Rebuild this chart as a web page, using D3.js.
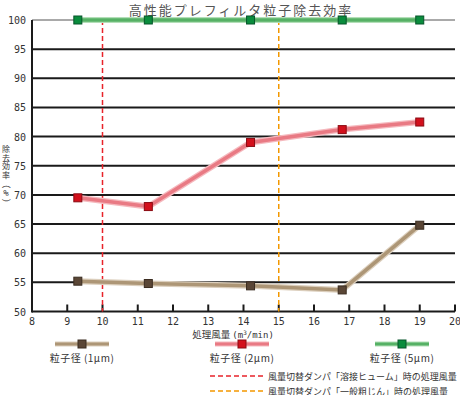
<!DOCTYPE html>
<html>
<head>
<meta charset="utf-8">
<script src="https://d3js.org/d3.v7.min.js"></script>
<style>
  body { margin: 0; background: #fff; }
  .jp { font-family: "Noto Sans CJK JP", sans-serif; fill: #333; }
  .num { font-family: "DejaVu Sans Mono", monospace; font-size: 10px; fill: #333; }
</style>
</head>
<body>
<script>
// data
var flow = [9.3, 11.3, 14.2, 16.8, 19.0];
var eff1um = [55.2, 54.8, 54.4, 53.7, 64.8];
var eff2um = [69.5, 68.0, 79.0, 81.2, 82.5];
var eff5um = [100, 100, 100, 100, 100];
var xTicks = [8, 9, 10, 11, 12, 13, 14, 15, 16, 17, 18, 19, 20];
var yTicks = [50, 55, 60, 65, 70, 75, 80, 85, 90, 95, 100];
var damperFlows = [10, 15];

var W = 460, H = 395;
var svg = d3.select("body").append("svg").attr("width", W).attr("height", H);

var x = d3.scaleLinear().domain([8, 20]).range([32, 455]);
var y = d3.scaleLinear().domain([50, 100]).range([311.5, 20]);

// title
svg.append("text").attr("class", "jp")
  .attr("x", 241).attr("y", 15).attr("text-anchor", "middle")
  .style("font-size", "13px").style("fill", "#555").style("letter-spacing", "2px")
  .text("高性能プレフィルタ粒子除去効率");

// horizontal grid lines
svg.selectAll(".grid").data(yTicks.filter(function(d) { return d > 50; }))
  .enter().append("line")
  .attr("x1", x(8)).attr("x2", x(20))
  .attr("y1", function(d) { return y(d); }).attr("y2", function(d) { return y(d); })
  .attr("stroke", function(d) { return d == 100 ? "#555" : "#1a1a1a"; })
  .attr("stroke-width", function(d) { return d == 100 ? 1 : 2; });

// y tick labels
svg.selectAll(".ylab").data(yTicks).enter().append("text")
  .attr("class", "num")
  .attr("x", 26).attr("y", function(d) { return y(d) + 4; })
  .attr("text-anchor", "end")
  .text(function(d) { return d; });

// axis lines + x ticks (ticks point up)
svg.append("line").attr("x1", x(8)).attr("x2", x(20)).attr("y1", y(50)).attr("y2", y(50))
  .attr("stroke", "#1a1a1a").attr("stroke-width", 2);
svg.append("line").attr("x1", x(8)).attr("x2", x(8)).attr("y1", y(100)).attr("y2", y(50) + 1)
  .attr("stroke", "#1a1a1a").attr("stroke-width", 2);
svg.selectAll(".xt").data(xTicks.slice(1)).enter().append("line")
  .attr("x1", function(d) { return x(d); }).attr("x2", function(d) { return x(d); })
  .attr("y1", y(50)).attr("y2", y(50) - 7)
  .attr("stroke", "#1a1a1a").attr("stroke-width", 2);
svg.selectAll(".xlab").data(xTicks).enter().append("text")
  .attr("class", "num")
  .attr("x", function(d) { return x(d); }).attr("y", 325)
  .attr("text-anchor", "middle")
  .text(function(d) { return d; });

// x axis title
var xt = svg.append("text").attr("class", "jp")
  .attr("x", 233).attr("y", 338).attr("text-anchor", "middle").style("font-size", "9.5px");
xt.append("tspan").text("処理風量 ");
xt.append("tspan").attr("class", "num").style("font-size", "9px").text("(m");
xt.append("tspan").attr("class", "num").attr("dy", -3).style("font-size", "6px").text("3");
xt.append("tspan").attr("class", "num").attr("dy", 3).style("font-size", "9px").text("/min)");

// y axis title, one character per row
var yTitle = ["除", "去", "効", "率"];
svg.selectAll(".yt").data(yTitle).enter().append("text").attr("class", "jp")
  .attr("x", 6).attr("y", function(d, i) { return 152 + i * 8.5; })
  .attr("text-anchor", "middle")
  .style("font-size", "8px")
  .text(function(d) { return d; });
svg.append("text").attr("class", "jp").attr("transform", "translate(3,184) rotate(90)")
  .attr("text-anchor", "middle")
  .style("font-size", "9px").text("（");
svg.append("text").attr("class", "num").attr("x", 6).attr("y", 196)
  .attr("text-anchor", "middle")
  .style("font-size", "9px").text("%");
svg.append("text").attr("class", "jp").attr("transform", "translate(3,203) rotate(90)")
  .attr("text-anchor", "middle")
  .style("font-size", "9px").text("）");

// damper lines
var damperColors = ["#e8232a", "#f39800"];
svg.selectAll(".damper").data(damperFlows).enter().append("line")
  .attr("x1", function(d) { return x(d); }).attr("x2", function(d) { return x(d); })
  .attr("y1", y(100)).attr("y2", y(50))
  .attr("stroke", function(d, i) { return damperColors[i]; })
  .attr("stroke-width", 1.5).attr("stroke-dasharray", "5,3");

var line = d3.line().x(function(d) { return x(d[0]); }).y(function(d) { return y(d[1]); });

var series = [
  { vals: eff1um, halo: "#dccfbd", color: "#ad9676", mark: "#5a4636", edge: "#3a2c20" },
  { vals: eff2um, halo: "#f5b9be", color: "#e97a84", mark: "#d3101c", edge: "#8a0a12" },
  { vals: eff5um, halo: "#b3dfb8", color: "#56b165", mark: "#0a8c3c", edge: "#06552a" }
];

series.forEach(function(s) {
  var pts = flow.map(function(f, i) { return [f, s.vals[i]]; });
  svg.append("path").datum(pts).attr("d", line).attr("fill", "none")
    .attr("stroke", s.halo).attr("stroke-width", 6);
  svg.append("path").datum(pts).attr("d", line).attr("fill", "none")
    .attr("stroke", s.color).attr("stroke-width", 3.5);
  svg.selectAll(null).data(pts).enter().append("rect")
    .attr("x", function(d) { return x(d[0]) - 4; }).attr("y", function(d) { return y(d[1]) - 4; })
    .attr("width", 8).attr("height", 8)
    .attr("fill", s.mark).attr("stroke", s.edge).attr("stroke-width", 1);
});

// legend for series
var legendItems = [
  { label: "粒子径 (1μm)", cx: 82 },
  { label: "粒子径 (2μm)", cx: 242 },
  { label: "粒子径 (5μm)", cx: 402 }
];
legendItems.forEach(function(d, i) {
  var s = series[i];
  svg.append("line").attr("x1", d.cx - 27).attr("x2", d.cx + 27).attr("y1", 344).attr("y2", 344)
    .attr("stroke", s.halo).attr("stroke-width", 5);
  svg.append("line").attr("x1", d.cx - 27).attr("x2", d.cx + 27).attr("y1", 344).attr("y2", 344)
    .attr("stroke", s.color).attr("stroke-width", 3);
  svg.append("rect").attr("x", d.cx - 4).attr("y", 340).attr("width", 8).attr("height", 8)
    .attr("fill", s.mark).attr("stroke", s.edge);
  svg.append("text").attr("class", "jp").attr("x", d.cx).attr("y", 362)
    .attr("text-anchor", "middle").style("font-size", "10px").style("letter-spacing", "0.5px")
    .text(d.label);
});

// legend for damper lines
var damperLabels = ["風量切替ダンパ「溶接ヒューム」時の処理風量", "風量切替ダンパ「一般粗じん」時の処理風量"];
damperLabels.forEach(function(t, i) {
  var yy = 376 + i * 15;
  svg.append("line").attr("x1", 210).attr("x2", 263).attr("y1", yy).attr("y2", yy)
    .attr("stroke", damperColors[i]).attr("stroke-width", 1.5).attr("stroke-dasharray", "5,3");
  svg.append("text").attr("class", "jp").attr("x", 268).attr("y", yy + 3.5)
    .style("font-size", "9px").text(t);
});
</script>
</body>
</html>
